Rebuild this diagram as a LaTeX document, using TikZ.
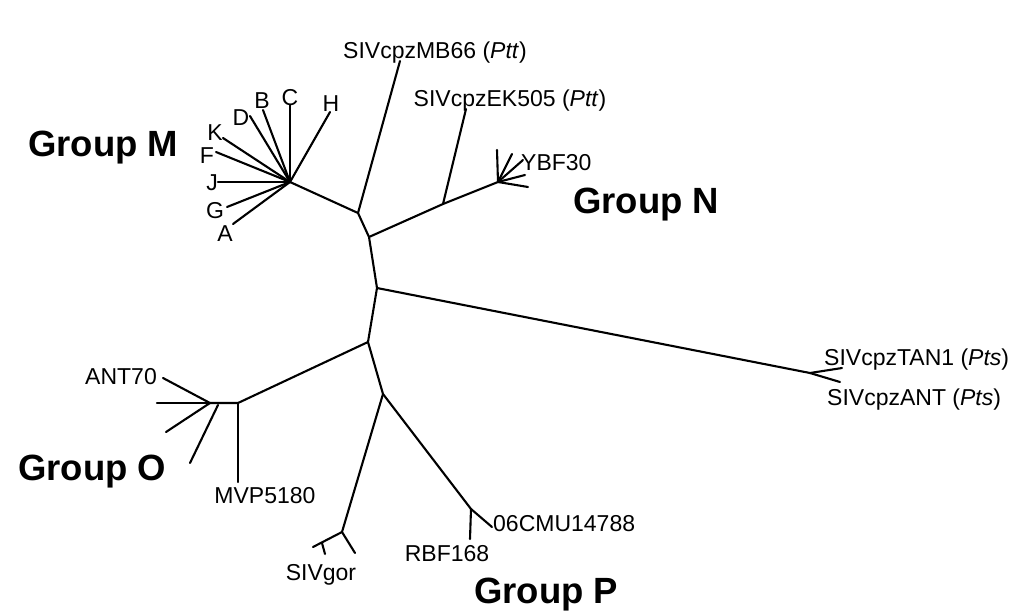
\documentclass[tikz,border=0pt]{standalone}
\usepackage{fontspec}
\setmainfont{Liberation Sans}
\tikzset{
  branch/.style = {line width=2.1pt, black, line cap=round, line join=round},
  taxon/.style = {inner sep=0pt, font=\fontsize{23}{27}\selectfont,
    text height=16.4pt, text depth=0pt},% leaf label
  grp/.style = {inner sep=0pt, font=\fontsize{36.5}{40}\selectfont\bfseries,
    text height=26.1pt, text depth=0pt}% group label
}

\begin{document}
\begin{tikzpicture}[x=1pt,y=-1pt]
    \useasboundingbox (0,0) rectangle (1029,614);
    % internal nodes on the spine
    \coordinate (rM) at (358,213);
    \coordinate (rN) at (369,237);
    \coordinate (rT) at (377,288);
    \coordinate (rO) at (368,342);
    \coordinate (rP) at (383,394);
    % group M
    \coordinate (mHub) at (290,182);
    \coordinate (mC) at (290,105);
    \coordinate (mH) at (330,112);
    \coordinate (mB) at (263,110);
    \coordinate (mD) at (250,116);
    \coordinate (mK) at (223,138);
    \coordinate (mF) at (216,152);
    \coordinate (mJ) at (218,182);
    \coordinate (mG) at (227,207);
    \coordinate (mA) at (233,224);
    \coordinate (tMB) at (400,61);
    % group N
    \coordinate (nEK) at (443,204);
    \coordinate (tEK) at (466,109);
    \coordinate (nHub) at (498,182);
    \coordinate (n1) at (497,150);
    \coordinate (n2) at (512,154);
    \coordinate (n3) at (523,160);
    \coordinate (n4) at (525,175);
    \coordinate (n5) at (528,187);
    % Pts
    \coordinate (tHub) at (810,373);
    \coordinate (tTAN) at (842,368);
    \coordinate (tANT) at (840,382);
    % group O
    \coordinate (oHub) at (238,403);
    \coordinate (oSub) at (210,403);
    \coordinate (oSub2) at (218,405);
    \coordinate (o1) at (163,378);
    \coordinate (o2) at (157,403);
    \coordinate (o3) at (166,432);
    \coordinate (o4) at (190,463);
    \coordinate (tMVP) at (238,482);
    % group P and SIVgor
    \coordinate (pGor) at (342,532);
    \coordinate (gL) at (313,547);
    \coordinate (gT) at (322,543);
    \coordinate (gTe) at (325,554);
    \coordinate (gR) at (355,553);
    \coordinate (pR) at (471,509);
    \coordinate (tRBF) at (470,539);
    \coordinate (tCMU) at (492,527);

    \draw[branch] (mHub) -- (rM) -- (rN) -- (rT) -- (rO) -- (rP);
    \draw[branch] (rM) -- (tMB);
    \foreach \t in {mC,mH,mB,mD,mK,mF,mG,mA}
        \draw[branch] (mHub) -- (\t);
    \draw[branch, line width=2.8pt] (mHub) -- (mJ);
    \draw[branch] (rN) -- (nEK) -- (nHub);
    \draw[branch] (nEK) -- (tEK);
    \foreach \t in {n1,n2,n3,n4,n5}
        \draw[branch] (nHub) -- (\t);
    \draw[branch] (rT) -- (tHub) -- (tTAN);
    \draw[branch] (tHub) -- (tANT);
    \draw[branch] (rO) -- (oHub) -- (oSub);
    \draw[branch] (oHub) -- (tMVP);
    \foreach \t in {o1,o2,o3}
        \draw[branch] (oSub) -- (\t);
    \draw[branch] (oSub2) -- (o4);
    \draw[branch] (rP) -- (pGor) -- (gL);
    \draw[branch] (pGor) -- (gR);
    \draw[branch] (gT) -- (gTe);
    \draw[branch] (rP) -- (pR) -- (tCMU);
    \draw[branch] (pR) -- (tRBF);

    % leaf labels
    \node[taxon] (lC) at (290,97) {C};
    \node[taxon] (lH) at (331,103) {H};
    \node[taxon] (lB) at (262,100) {B};
    \node[taxon] (lD) at (241,117) {D};
    \node[taxon] (lK) at (215,132) {K};
    \node[taxon] (lF) at (207,155) {F};
    \node[taxon] (lJ) at (212,182) {J};
    \node[taxon] (lG) at (215,210) {G};
    \node[taxon] (lA) at (225,233) {A};
    \node[taxon] (lMB) at (435,50) {SIVcpzMB66 (\textit{Ptt})};
    \node[taxon] (lEK) at (510,98) {SIVcpzEK505 (\textit{Ptt})};
    \node[taxon, anchor=west] (lYBF) at (521,162) {YBF30};
    \node[taxon, anchor=west] (lTAN) at (824,357) {SIVcpzTAN1 (\textit{Pts})};
    \node[taxon, anchor=west] (lANT) at (827,397) {SIVcpzANT (\textit{Pts})};
    \node[taxon, anchor=east] (lANT70) at (157,376) {ANT70};
    \node[taxon] (lMVP) at (265,495) {MVP5180};
    \node[taxon] (lGor) at (321,572) {SIVgor};
    \node[taxon] (lRBF) at (447,553) {RBF168};
    \node[taxon, anchor=west] (lCMU) at (493,523) {06CMU14788};

    % group labels
    \node[grp, anchor=west] (gM) at (28,143) {Group M};
    \node[grp, anchor=west] (gN) at (573,200) {Group N};
    \node[grp, anchor=west] (gO) at (18,467) {Group O};
    \node[grp, anchor=west] (gP) at (474,590) {Group P};
\end{tikzpicture}
\end{document}
